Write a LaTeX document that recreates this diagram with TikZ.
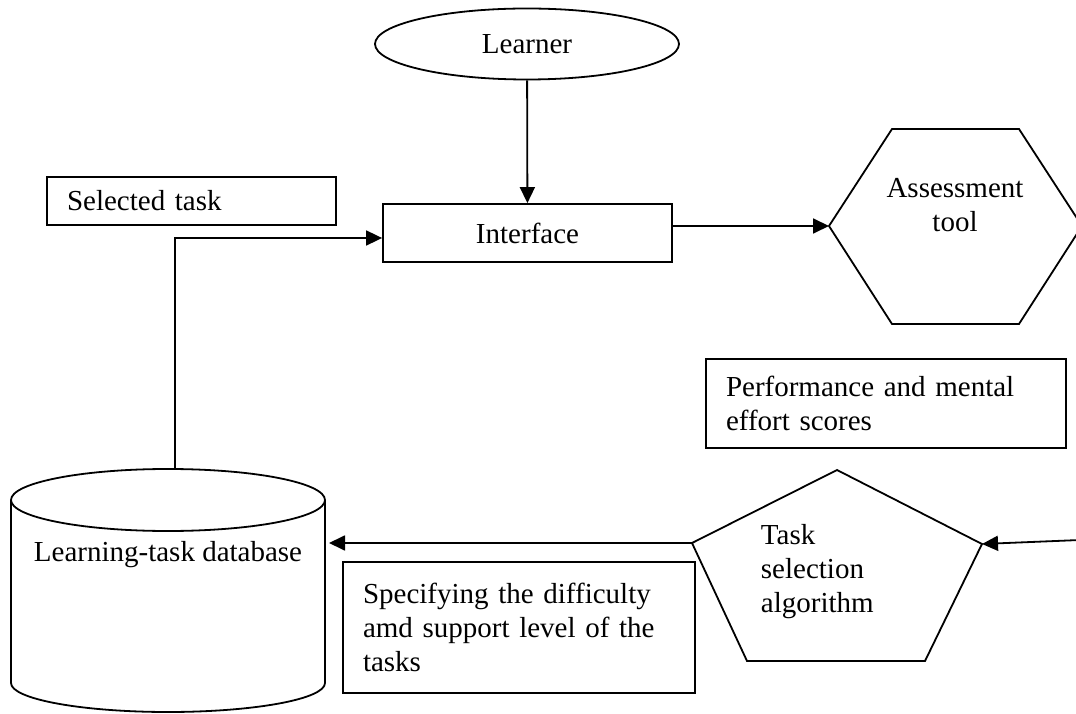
\documentclass[tikz,border=0pt]{standalone}
\usepackage{fontspec}
\setmainfont{Liberation Serif}
\usetikzlibrary{shapes.geometric,arrows.meta}
\begin{document}
\begin{tikzpicture}[x=1pt, y=1pt, line width=1.8pt, >={Triangle[length=16pt,width=15pt]},
  every node/.style={font=\fontsize{29}{34}\selectfont, inner sep=0pt},
  box/.style={draw, rectangle, align=left, inner xsep=20pt}]
  \useasboundingbox (0,0) rectangle (1076,713);
  \node [draw, ellipse, minimum width=304pt, minimum height=71pt] (learner) at (527,669) {Learner};
  \node [draw, minimum width=289pt, minimum height=58pt] (iface) at (527.5,480) {Interface};
  \node [box, text width=249pt, minimum height=48pt] (seltask) at (191.5,512) {Selected task};
  \node [box, text width=320pt, minimum height=89pt] (perf) at (886,309.5) {Performance and mental\\effort scores};
  \node [box, text width=312pt, minimum height=131pt] (spec) at (519,85.5) {Specifying the difficulty\\amd support level of the\\tasks};
  % assessment hexagon
  \coordinate (hexW) at (829,487);
  \draw (hexW) -- (892,584) -- (1019,584) -- (1082,487) -- (1019,389) -- (892,389) -- cycle;
  \node [align=center] (assess) at (955,508) {Assessment\\tool};
  % selection pentagon
  \coordinate (pentW) at (692,170);
  \coordinate (pentE) at (982,169);
  \draw (pentW) -- (837,243) -- (pentE) -- (925,52) -- (747,52) -- cycle;
  \node [align=left, anchor=west] (tsa) at (760,141) {Task\\selection\\algorithm};
  % database cylinder
  \draw (11,213) -- (11,30) arc [start angle=180, end angle=360, x radius=157, y radius=29] -- (325,213);
  \draw (168,213) ellipse [x radius=157, y radius=31];
  \node (db) at (168,158) {Learning-task database};
  \coordinate (dbtop) at (175,244);
  \coordinate (dbE) at (329,170);
  \coordinate (inR) at (1080,173);
  \draw [->] (learner) -- (iface);
  \draw [->] (iface.east |- hexW) -- (hexW);
  \draw [->] (dbtop) |- ([yshift=-5pt]iface.west);
  \draw [->] (inR) -- (pentE);
  \draw [->] (pentW) -- (dbE);
\end{tikzpicture}
\end{document}
